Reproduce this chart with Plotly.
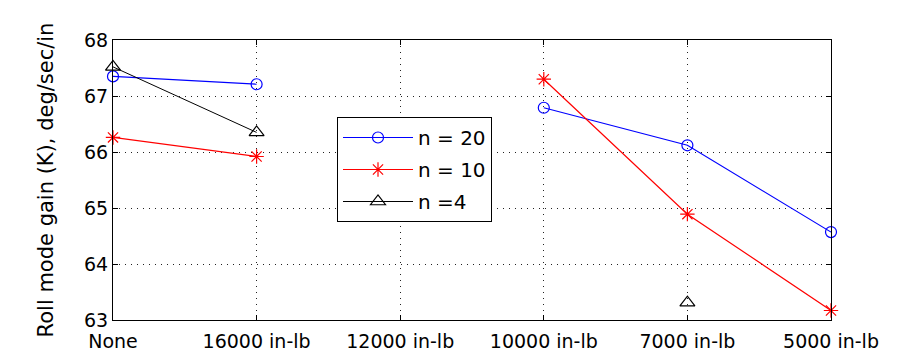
import plotly.graph_objects as go

categories = ["None", "16000 in-lb", "12000 in-lb", "10000 in-lb", "7000 in-lb", "5000 in-lb"]
n20 = [67.35, 67.21, None, 66.79, 66.12, 64.57]
n10 = [66.26, 65.92, None, 67.30, 64.89, 63.17]
n4 = [67.52, 66.35, None, None, 63.31, None]
y_ticks = [63, 64, 65, 66, 67, 68]

FONT = "DejaVu Sans"

fig = go.Figure()
fig.add_trace(go.Scatter(
    x=categories, y=n20, name="n = 20", mode="lines+markers", legendgroup="a",
    line=dict(color="#0000ff", width=1.2), cliponaxis=False, connectgaps=False,
    marker=dict(symbol="circle-open", size=11, color="#0000ff", line=dict(width=1.2, color="#0000ff")),
))
fig.add_trace(go.Scatter(
    x=categories, y=n10, name="n = 10", mode="lines+markers", legendgroup="b",
    line=dict(color="#ff0000", width=1.2), cliponaxis=False, connectgaps=False,
    marker=dict(symbol="asterisk-open", size=12, color="#ff0000", line=dict(width=1.2, color="#ff0000")),
))
fig.add_trace(go.Scatter(
    x=categories, y=n4, name="n =4", mode="lines+markers", legendgroup="c",
    line=dict(color="#000000", width=1), cliponaxis=False, connectgaps=False,
    marker=dict(symbol="triangle-up-open", size=13, color="#000000", line=dict(width=1.2, color="#000000")),
))

L, R, T, B = 113, 66, 40, 32
W, H = 897, 352

fig.update_layout(
    width=W, height=H,
    margin=dict(l=L, r=R, t=T, b=B, pad=0, autoexpand=False),
    paper_bgcolor="white", plot_bgcolor="white",
    font=dict(family=FONT, size=19, color="black"),
    showlegend=True,
    legend=dict(
        x=(337 - L) / (W - L - R), y=(H - B - 117) / (H - T - B),
        xanchor="left", yanchor="top",
        bgcolor="white", bordercolor="black", borderwidth=1,
        font=dict(family=FONT, size=20, color="black"),
        itemwidth=70, tracegroupgap=3,
    ),
    xaxis=dict(
        type="category", categoryorder="array", categoryarray=categories,
        tickvals=categories, ticktext=categories,
        range=[0, len(categories) - 1], automargin=False,
        showline=True, linecolor="black", linewidth=1, mirror="ticks",
        ticks="inside", ticklen=5, tickcolor="black", tickwidth=1,
        showgrid=True, gridcolor="#222", gridwidth=1, griddash="1px,5px",
        zeroline=False, tickfont=dict(family=FONT, size=19),
        ticklabelstandoff=4,
    ),
    yaxis=dict(
        range=[63, 68], tickvals=y_ticks, ticktext=[str(v) for v in y_ticks],
        automargin=False,
        showline=True, linecolor="black", linewidth=1, mirror="ticks",
        ticks="inside", ticklen=5, tickcolor="black", tickwidth=1,
        showgrid=True, gridcolor="#222", gridwidth=1, griddash="1px,5px",
        zeroline=False, tickfont=dict(family=FONT, size=19),
        title=dict(text="Roll mode gain (K), deg/sec/in", font=dict(family=FONT, size=21), standoff=24),
    ),
)

fig.write_html("out.html")
